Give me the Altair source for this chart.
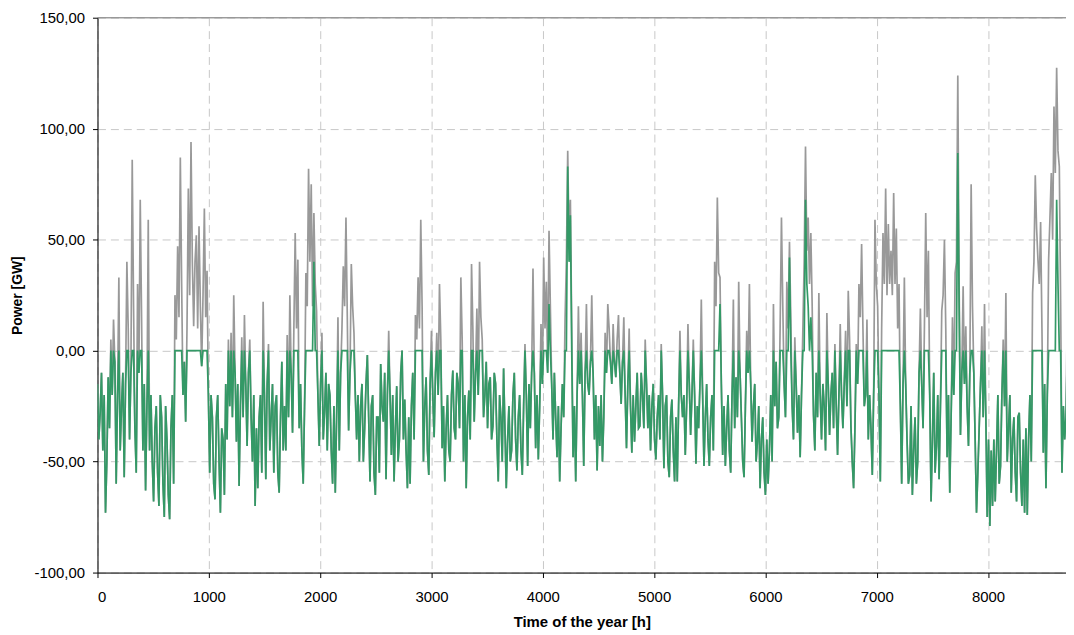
import altair as alt
import pandas as pd

# sample hours: each day at 00h and 12h
hours_00h = list(range(0, 8761, 24))
hours_12h = list(range(12, 8760, 24))

# grey series (power, GW) read at 00h of each day
residual_00h = [
    -15, -28, -45, -73, -12, 5, 14, -60, 33, -25,
    -57, 40, -40, 86, -35, 30, 68, -45, -63, 59,
    -20, -68, -25, -70, -30, -75, -40, -76, -20, 25,
    47, 87, -20, -32, 73, 94, 11, 52, 56, -7,
    64, 36, -55, -30, -67, -20, -73, -40, -15, 5,
    8, 25, -41, -61, 6, 16, -43, 5, -50, -70,
    -62, -20, 22, -58, 3, -30, -55, -20, -64, -5,
    -25, 7, 25, -37, 53, 41, -15, -60, 35, 82,
    75, 62, 18, -43, 8, -27, -45, -20, -60, -64,
    15, -10, 38, 60, -36, 39, 8, -40, -50, -15,
    -35, -2, -59, -20, -65, -30, -6, -32, -58, 9,
    -47, -59, -16, -40, 0, -22, -62, -60, -10, 16,
    33, 59, -50, -12, -56, 9, -39, 8, 30, -44,
    -59, -20, -50, -9, -40, -15, 33, -50, -62, -18,
    39, -32, 19, 40, 5, -20, -35, -12, -34, -15,
    -59, -30, -8, -62, -25, -45, -10, -54, -20, -56,
    3, -52, -35, 37, -44, -49, 12, 42, 31, 54,
    -15, -10, -48, -59, -15, 14, 90, 68, -48, -59,
    20, 8, -52, 21, -20, 25, -40, -54, -43, -50,
    8, 21, -5, 12, -12, 16, -24, 15, -44, 10,
    -46, -41, -10, -34, -20, 5, -35, -45, -15, -49,
    -20, 3, -53, -20, -57, -22, -59, -59, 9, -30,
    -47, 12, -38, 5, -51, -35, 23, -52, -15, -52,
    -20, 40, 69, 33, -47, -52, -20, -55, 23, -12,
    31, -30, -57, 9, 30, -41, -15, -41, -62, -30,
    -65, -60, -20, 21, -5, -30, 60, -15, 31, 49,
    -25, 6, -37, -48, 9, 92, 60, 53, -29, -10,
    26, -40, -25, 17, -38, -10, 3, -47, 12, -35,
    9, 27, -34, -62, 3, 30, 48, -25, 14, -20,
    -56, 59, 20, -59, 53, 73, 57, 45, 71, 55,
    30, -60, 33, -40, -56, -65, -30, -50, 19, -35,
    62, 45, -68, -10, -43, -58, 18, 50, -48, -64,
    15, 35, 124, -38, 29, 11, -43, 75, -10, -73,
    -35, 11, 21, -75, -79, -70, -68, -20, -52, 5,
    26, -35, -64, -30, -68, -28, -70, -73, -74, -20,
    26, 79, 41, 58, -46, -62, 41, 80, 110, 127.5,
    83, -55, -40, 19, -20, -30,
]

# grey series (power, GW) read at 12h of each day
residual_12h = [
    -40, -10, -20, -50, -35, -20, -5, -20, -45, -10,
    -15, 10, -10, 20, -55, -10, 15, -15, -25, -45,
    -50, -35, -55, -20, -60, -25, -65, -35, -60, 5,
    15, 30, -5, 10, 25, 40, 40, 10, 20, 25,
    15, -20, -20, -60, -30, -50, -35, -65, -40, -25,
    -30, -10, -15, -25, -30, -15, -10, -30, -20, -35,
    -30, -55, -20, -15, -45, -15, -25, -55, -30, -45,
    -45, -30, -10, 10, 10, -35, -45, -25, 20, 40,
    20, 30, -20, -15, -40, -10, -15, -45, -25, -30,
    -45, 10, 20, 15, -10, 20, -20, -20, -25, -50,
    -15, -30, -25, -55, -30, -55, -25, -10, -20, -20,
    -20, -35, -50, -10, -40, -45, -30, -25, -40, 5,
    10, 20, -25, -45, -15, -20, -10, -20, 5, -25,
    -35, -45, -20, -35, -10, -35, 5, -20, -30, -40,
    10, -10, -20, 15, -30, -5, -15, -40, -10, -40,
    -20, -50, -35, -40, -50, -20, -40, -30, -45, -25,
    -20, -15, -10, -10, -20, -25, -15, 10, -10, 20,
    -40, -30, -25, -35, -30, 40, 50, 10, -25, -20,
    -15, -20, -10, -15, -5, -10, -20, -25, -20, -30,
    -10, 10, -15, -5, 5, -10, -5, -20, -15, -25,
    -20, -25, -35, -10, -35, -15, -20, -25, -40, -30,
    -40, -20, -25, -50, -30, -45, -30, -25, -20, -20,
    -25, -15, -20, -20, -25, -15, -20, -30, -40, -30,
    -45, 20, 35, -15, -25, -35, -45, -20, -35, -30,
    -10, -50, -25, -10, -15, -25, -50, -25, -40, -55,
    -40, -45, -50, -25, -35, 10, 20, -30, 10, 15,
    -40, -15, -20, -20, 40, 45, 30, 20, -45, -30,
    -20, -15, -45, -15, -20, -35, -25, -20, -20, -15,
    -25, 5, -50, -35, -15, 15, 10, -20, -40, -35,
    -20, 30, -20, 10, 30, 25, 30, 25, 30, 10,
    -25, -15, -15, -60, -25, -45, -60, -10, -15, 10,
    15, -20, -40, -55, -20, -25, 25, 10, -20, -30,
    -20, 40, 30, -10, -15, -25, -10, 20, -40, -55,
    -15, -30, -30, -40, -45, -40, -45, -60, -20, -25,
    -50, -20, -40, -55, -30, -55, -40, -35, -40, -50,
    40, 55, 30, 10, -15, -20, 60, 50, 80, 90,
    20, -25, -30, -45, -50,
]

# green series (power, GW) read at 00h of each day
green_00h = [
    -15, -28, -45, -73, -12, 0, 0, -60, 0, -25,
    -57, 0, -40, 0, -35, 0, 0, -45, -63, 0,
    -20, -68, -25, -70, -30, -75, -40, -76, -20, 0,
    0, 0, -20, -32, 0, 0, 0, 0, 0, -7,
    0, 0, -55, -30, -67, -20, -73, -40, -15, 0,
    0, 0, -41, -61, 0, 0, -43, 0, -50, -70,
    -62, -20, 0, -58, 0, -30, -55, -20, -64, -5,
    -25, 0, 0, -37, 0, 0, -15, -60, 0, 0,
    0, 40, 0, -43, 0, -27, -45, -20, -60, -64,
    0, -10, 0, 0, -36, 0, 0, -40, -50, -15,
    -35, -2, -59, -20, -65, -30, -6, -32, -58, 0,
    -47, -59, -16, -40, 0, -22, -62, -60, -10, 0,
    0, 0, -50, -12, -56, 0, -39, 0, 0, -44,
    -59, -20, -50, -9, -40, -15, 0, -50, -62, -18,
    0, -32, 0, 0, 0, -20, -35, -12, -34, -15,
    -59, -30, -8, -62, -25, -45, -10, -54, -20, -56,
    0, -52, -35, 0, -44, -49, 0, 0, 0, 21,
    -15, -10, -48, -59, -15, 0, 83, 61, -48, -59,
    0, 0, -52, 0, -20, 0, -40, -54, -43, -50,
    0, 0, -5, 0, -12, 0, -24, 0, -44, 0,
    -46, -41, -10, -34, -20, 0, -35, -45, -15, -49,
    -20, 0, -53, -20, -57, -22, -59, -59, 0, -30,
    -47, 0, -38, 0, -51, -35, 0, -52, -15, -52,
    -20, 0, 0, 21, -47, -52, -20, -55, 0, -12,
    0, -30, -57, 0, 0, -41, -15, -41, -62, -30,
    -65, -60, -20, 0, -5, -30, 0, -15, 0, 42,
    -25, 0, -37, -48, 0, 68, 20, 15, -29, -10,
    0, -40, -25, 0, -38, -10, 0, -47, 0, -35,
    0, 0, -34, -62, 0, 0, 0, -25, 0, -20,
    -56, 0, 0, -59, 0, 0, 0, 0, 0, 0,
    0, -60, 0, -40, -56, -65, -30, -50, 0, -35,
    0, 0, -68, -10, -43, -58, 0, 0, -48, -64,
    0, 0, 89, -38, 0, 0, -43, 0, -10, -73,
    -35, 0, 0, -75, -79, -70, -68, -20, -52, 0,
    0, -35, -64, -30, -68, -28, -70, -73, -74, -20,
    0, 0, 0, 0, -46, -62, 0, 0, 0, 68,
    0, -55, -40, 0, -20, -30,
]

# green series (power, GW) read at 12h of each day
green_12h = [
    -40, -10, -20, -50, -35, -20, -5, -20, -45, -10,
    -15, 0, -10, 0, -55, -10, 0, -15, -25, -45,
    -50, -35, -55, -20, -60, -25, -65, -35, -60, 0,
    0, 0, -5, 0, 0, 0, 0, 0, 0, 0,
    0, -20, -20, -60, -30, -50, -35, -65, -40, -25,
    -30, -10, -15, -25, -30, -15, -10, -30, -20, -35,
    -30, -55, -20, -15, -45, -15, -25, -55, -30, -45,
    -45, -30, -10, 0, 0, -35, -45, -25, 0, 0,
    0, 0, -20, -15, -40, -10, -15, -45, -25, -30,
    -45, 0, 0, 0, -10, 0, -20, -20, -25, -50,
    -15, -30, -25, -55, -30, -55, -25, -10, -20, -20,
    -20, -35, -50, -10, -40, -45, -30, -25, -40, 0,
    0, 0, -25, -45, -15, -20, -10, -20, 0, -25,
    -35, -45, -20, -35, -10, -35, 0, -20, -30, -40,
    0, -10, -20, 0, -30, -5, -15, -40, -10, -40,
    -20, -50, -35, -40, -50, -20, -40, -30, -45, -25,
    -20, -15, -10, -10, -20, -25, -15, 0, -10, 0,
    -40, -30, -25, -35, -30, 0, 40, 0, -25, -20,
    -15, -20, -10, -15, -5, -10, -20, -25, -20, -30,
    -10, 0, -15, -5, 0, -10, -5, -20, -15, -25,
    -20, -25, -35, -10, -35, -15, -20, -25, -40, -30,
    -40, -20, -25, -50, -30, -45, -30, -25, -20, -20,
    -25, -15, -20, -20, -25, -15, -20, -30, -40, -30,
    -45, 0, 0, -15, -25, -35, -45, -20, -35, -30,
    -10, -50, -25, -10, -15, -25, -50, -25, -40, -55,
    -40, -45, -50, -25, -35, 0, 0, -30, 0, 0,
    -40, -15, -20, -20, 0, 30, 0, 0, -45, -30,
    -20, -15, -45, -15, -20, -35, -25, -20, -20, -15,
    -25, 0, -50, -35, -15, 0, 0, -20, -40, -35,
    -20, 0, -20, 0, 0, 0, 0, 0, 0, 0,
    -25, -15, -15, -60, -25, -45, -60, -10, -15, 0,
    0, -20, -40, -55, -20, -25, 0, 0, -20, -30,
    -20, 0, 20, -10, -15, -25, -10, 0, -40, -55,
    -15, -30, -30, -40, -45, -40, -45, -60, -20, -25,
    -50, -20, -40, -55, -30, -55, -40, -35, -40, -50,
    0, 0, 0, 0, -15, -20, 0, 0, 0, 30,
    0, -25, -30, -45, -50,
]

x_ticks = [0, 1000, 2000, 3000, 4000, 5000, 6000, 7000, 8000]
y_ticks = [-100, -50, 0, 50, 100, 150]

df_r = pd.concat([
    pd.DataFrame({"h": hours_00h, "v": residual_00h}),
    pd.DataFrame({"h": hours_12h, "v": residual_12h}),
]).sort_values("h")
df_g = pd.concat([
    pd.DataFrame({"h": hours_00h, "v": green_00h}),
    pd.DataFrame({"h": hours_12h, "v": green_12h}),
]).sort_values("h")

FONT = "Liberation Sans"

x_enc = alt.X(
    "h:Q",
    scale=alt.Scale(domain=[0, 8700], nice=False, zero=False),
    axis=alt.Axis(
        values=x_ticks, format="d", title="Time of the year [h]",
        grid=True, gridDash=[8, 5], gridColor="#c8c8c8", gridWidth=1,
        domainColor="#000000", tickColor="#000000", tickSize=5,
        labelPadding=12, labelFontSize=15, labelFont=FONT, labelColor="#000000",
        titleFont=FONT, titleFontSize=15, titleFontWeight="bold", titleColor="#000000",
        titleX=487, titleY=49, titleBaseline="middle", titleAlign="center",
    ),
)
y_enc = alt.Y(
    "v:Q",
    scale=alt.Scale(domain=[-100, 150], nice=False, zero=False),
    axis=alt.Axis(
        values=y_ticks, title="Power [GW]",
        labelExpr="(datum.value < 0 ? '-' : '') + replace(format(abs(datum.value), '.2f'), '.', ',')",
        grid=True, gridDash=[8, 5], gridColor="#c8c8c8", gridWidth=1,
        domainColor="#000000", tickColor="#000000", tickSize=5,
        labelPadding=8, labelFontSize=15, labelFont=FONT, labelColor="#000000",
        titleFont=FONT, titleFontSize=14, titleFontWeight="bold", titleColor="#000000",
        titleX=-80, titleY=279, titleAngle=270, titleBaseline="middle", titleAlign="center",
    ),
)

grey_line = alt.Chart(df_r).mark_line(color="#999999", strokeWidth=1.7, clip=True).encode(
    x=x_enc, y=y_enc, order="h:Q"
)
green_line = alt.Chart(df_g).mark_line(color="#339966", strokeWidth=1.7, clip=True).encode(
    x="h:Q", y="v:Q", order="h:Q"
)
top_rule = alt.Chart(pd.DataFrame({"v": [150]})).mark_rule(color="#808080", strokeWidth=1).encode(
    y="v:Q"
)

chart = (
    alt.layer(grey_line, green_line, top_rule)
    .properties(
        width=974, height=558,
        autosize=alt.AutoSizeParams(type="none"),
        padding={"left": 90, "top": 8, "right": 0, "bottom": 60},
    )
    .configure_view(stroke=None)
    .configure(background="#ffffff")
)

chart.save("out.html", embed_options={"renderer": "svg", "actions": False})
